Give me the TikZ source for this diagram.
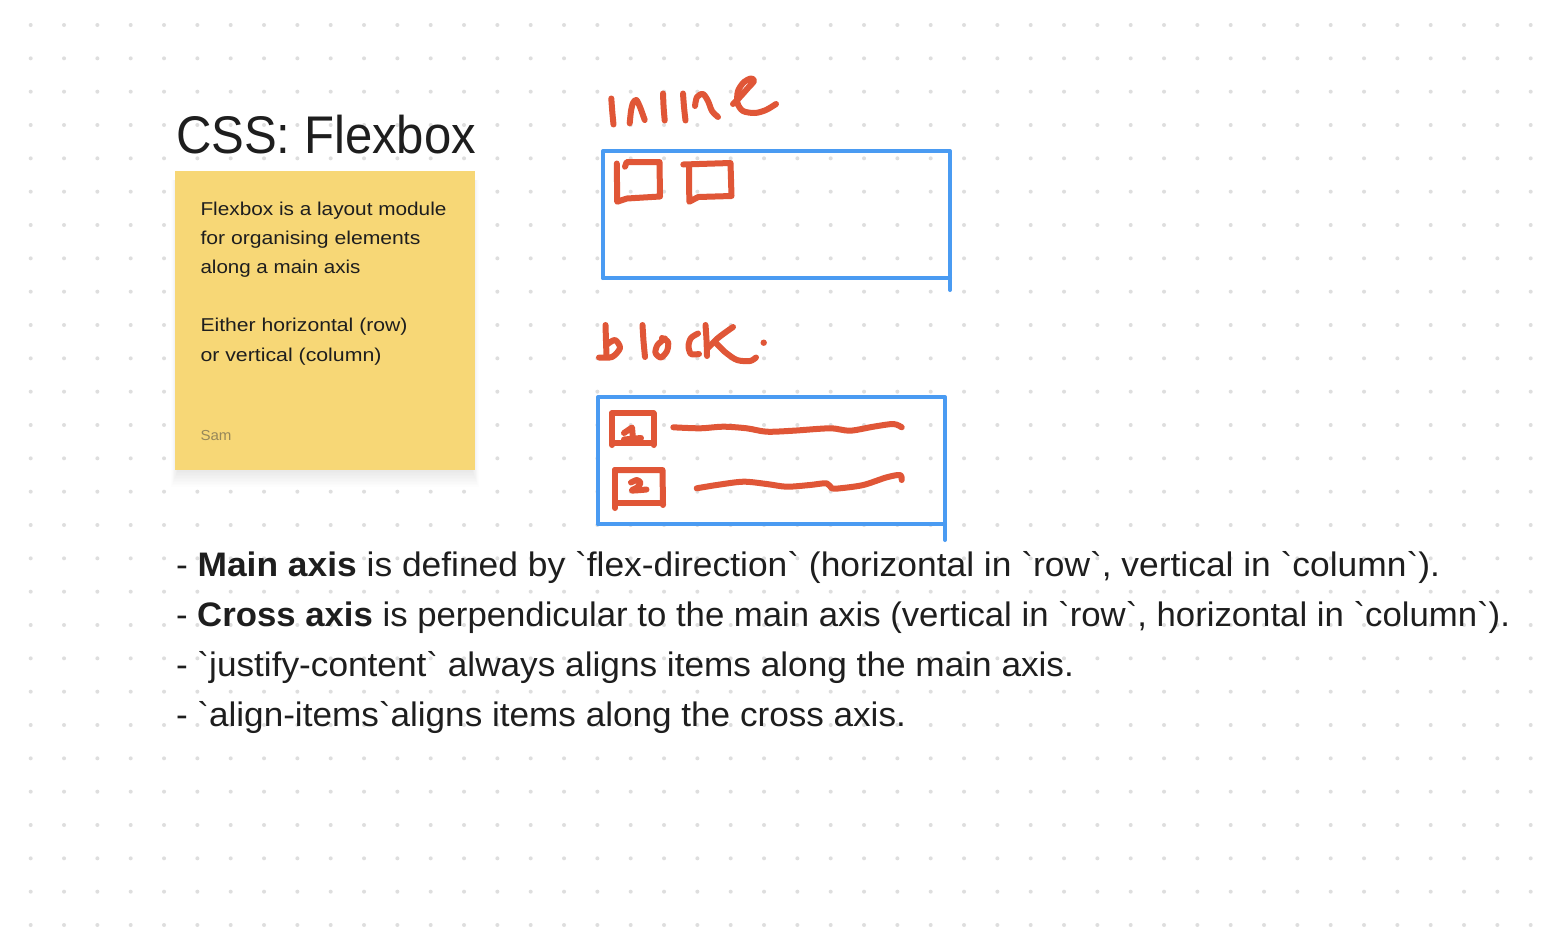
\documentclass[tikz,border=0pt]{standalone}
\usepackage{fontspec}
\setmainfont{Liberation Sans}
\usepackage{graphicx}
\definecolor{ink}{RGB}{30,30,30}
\definecolor{dotc}{RGB}{222,222,222}
\definecolor{stickyc}{RGB}{247,215,118}
\definecolor{pen}{RGB}{224,86,55}
\definecolor{bluepen}{RGB}{74,155,242}
\definecolor{samc}{RGB}{150,135,90}
\newcommand\fitw[2]{\resizebox{#1pt}{\height}{#2}}
\newcommand\bq{\textasciigrave}
\begin{document}
\begin{tikzpicture}[x=1pt,y=-1pt,
  penline/.style={pen,line width=6pt,line cap=round,line join=round},
  blueline/.style={bluepen,line width=4pt,line cap=round,line join=round},
  txt/.style={anchor=base west,inner sep=0pt,outer sep=0pt,text=ink},
  bodytxt/.style={txt,font=\fontsize{34}{40}\selectfont},
  notetxt/.style={txt,font=\fontsize{18.6}{22}\selectfont,text=ink}]
\useasboundingbox (0,0) rectangle (1550,932);
\fill[white] (0,0) rectangle (1550,932);
% dot grid
\foreach \i in {0,...,45}{
  \foreach \j in {0,...,27}{
    \fill[dotc] ({30.7+33.333*\i},{25+33.333*\j}) circle (2);
  }
}
% sticky note shadow
\foreach \k in {0,...,11}{
  \fill[black,opacity=0.009] ({178-\k*0.6},{180}) rectangle ({472+\k*0.6},{470+\k*1.5});
}
\node[fill=stickyc,minimum width=300pt,minimum height=299pt,anchor=north west,inner sep=0pt] (note) at (175,171) {};
% title
\node[txt,font=\fontsize{53}{60}\selectfont] (title) at (176,153) {\fitw{300}{CSS: Flexbox}};
% sticky text
\node[notetxt] (n1) at (200.5,215) {\fitw{246}{Flexbox is a layout module}};
\node[notetxt] (n2) at (200.5,244.5) {\fitw{220}{for organising elements}};
\node[notetxt] (n3) at (200.5,273.5) {\fitw{160}{along a main axis}};
\node[notetxt] (n4) at (200.5,331.5) {\fitw{207}{Either horizontal (row)}};
\node[notetxt] (n5) at (200.5,361) {\fitw{181}{or vertical (column)}};
\node[txt,font=\fontsize{14.5}{17}\selectfont,text=samc] (sam) at (200.5,440) {\fitw{31}{Sam}};
% bottom text
\node[bodytxt] (b1) at (176,576) {\fitw{1264}{- \textbf{Main axis} is defined by \bq flex-direction\bq{} (horizontal in \bq row\bq, vertical in \bq column\bq).}};
\node[bodytxt] (b2) at (176,626) {\fitw{1334}{- \textbf{Cross axis} is perpendicular to the main axis (vertical in \bq row\bq, horizontal in \bq column\bq).}};
\node[bodytxt] (b3) at (176,676) {\fitw{898}{- \bq justify-content\bq{} always aligns items along the main axis.}};
\node[bodytxt] (b4) at (176,726) {\fitw{730}{- \bq align-items\bq aligns items along the cross axis.}};
% blue containers
\draw[blueline] (603,278) -- (603,151) -- (950,151) -- (950,290);
\draw[blueline] (603,278) -- (950,278);
\draw[blueline] (598,524) -- (598,397) -- (945,397) -- (945,540);
\draw[blueline] (598,524) -- (945,524);
% handwriting: inline
\draw[penline] plot[smooth] coordinates {(611.3,98.5) (612.3,112) (613.5,124.5)};
\draw[penline] plot[smooth] coordinates {(629.7,123.3) (631,111) (633,103) (636.3,100) (640,107) (644.7,120)};
\draw[penline] plot[smooth] coordinates {(663,93.5) (663.6,107) (664.7,120.5)};
\draw[penline] plot[smooth] coordinates {(683,93.5) (684,107) (685.5,120.5)};
\draw[penline] plot[smooth] coordinates {(695,106) (697,97) (703,94) (708,101) (712,111) (718,117)};
\draw[penline] plot[smooth] coordinates {(733,104) (740,97) (748,88) (754,81) (751,78.5) (744,82) (738,91) (737.5,103) (743,111) (755,113) (766,110) (776,104)};
% handwriting: block.
\draw[penline] plot[smooth] coordinates {(605.5,325) (606,341) (606.5,356)};
\draw[penline] plot[smooth] coordinates {(599,357.5) (612,357) (620,348) (615,340) (607,344.5)};
\draw[penline] plot[smooth] coordinates {(642.5,325) (643.5,341) (645,357)};
\draw[penline] plot[smooth] coordinates {(665,338.5) (657.5,345) (655.5,353) (661,357.5) (667,351) (668,342) (662,338)};
\draw[penline] plot[smooth] coordinates {(698,333.5) (691,338) (688.5,346) (691,354) (699,354)};
\draw[penline] plot[smooth] coordinates {(705.5,325) (706.5,340) (707,356)};
\draw[penline] plot[smooth] coordinates {(707,349) (718,338) (733,327)};
\draw[penline] plot[smooth] coordinates {(715,342) (725,352) (737,360) (750,361) (756,357.5)};
\fill[pen] (763.7,342.7) circle (3.2);
% inline items
\draw[penline] (625,166.7) -- (626.7,162) -- (659.5,162) -- (660,196.5) -- (627,198.5) -- (617.2,201.7) -- (616.8,163.5);
\draw[penline] (683.3,164.5) -- (730.5,163) -- (731.5,196) -- (698.3,197) -- (689.3,201.7) -- (689,165.5);
% block items
\draw[penline] (612,413.3) -- (653.5,413.3);
\draw[penline] (612,413.3) -- (612,445);
\draw[penline] (653.5,413.3) -- (653.5,445);
\draw[penline] (612,443.3) -- (653.5,443.3);
\draw[penline] (624,433) -- (632,427.5) -- (633,439);
\draw[penline] (624,439.5) -- (641,438);
\draw[penline] (615,470) -- (662.5,470) -- (663,505);
\draw[penline] (615,470) -- (615,508);
\draw[penline] (615,502.5) -- (663,502.5);
\draw[penline] plot[smooth] coordinates {(631,482.5) (637,480) (640.5,483) (637,487.5) (632,490.5) (646.5,489.5)};
\draw[penline] plot[smooth] coordinates {(673.3,427.3) (700,428.3) (723.3,426.7) (746.7,428.3) (766.7,431.7) (793.3,430.7) (830,428.3) (850,430.7) (873.3,426.7) (893.3,424) (901.7,427.3)};
\draw[penline] plot[smooth] coordinates {(696.7,488.3) (716.7,485) (743.3,481.7) (766.7,484) (786.7,486.7) (810,485) (826.7,483.3) (831.7,488.3) (840,488.3) (863.3,485) (886.7,477.3) (900,475) (901.7,480)};
\end{tikzpicture}
\end{document}
